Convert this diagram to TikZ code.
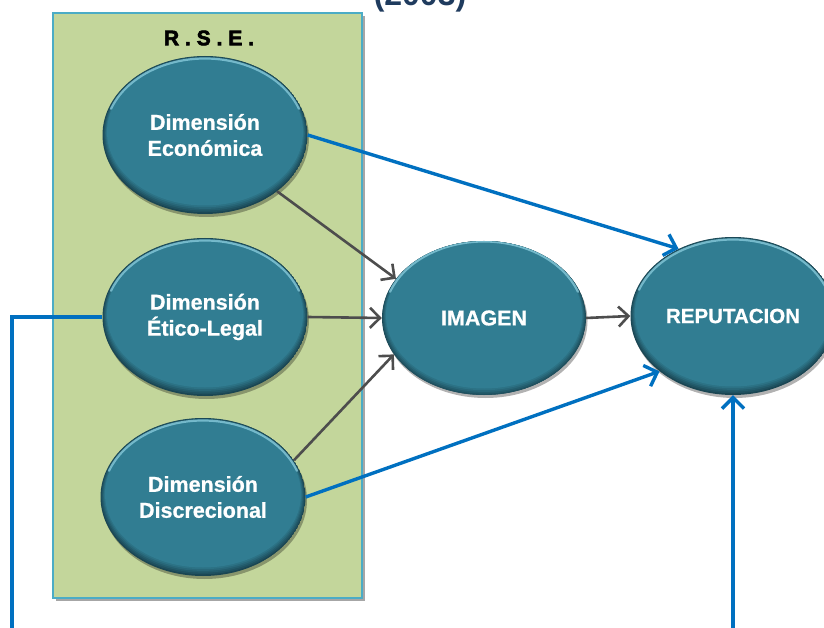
\documentclass[tikz,border=0pt]{standalone}
\usepackage{fontspec}
\setmainfont{Liberation Sans}
\newfontfamily\rsefont{Liberation Sans}[LetterSpace=28,FakeBold=3]
\newfontfamily\bubblefont{Liberation Sans}[FakeBold=0.8]
\usetikzlibrary{shapes.geometric, arrows.meta, shadows}

\definecolor{panelfill}{HTML}{C3D69B}
\definecolor{panelline}{HTML}{4BACC6}
\definecolor{bubblebody}{HTML}{317D92}
\definecolor{bubblerim}{HTML}{1A4653}
\definecolor{bubblelight}{HTML}{8CCFE0}
\definecolor{linkblue}{HTML}{0070C0}
\definecolor{linkgray}{HTML}{4D4D4D}
\definecolor{yearnavy}{HTML}{1F3B5E}

\tikzset{
  panelbox/.style={rectangle, fill=panelfill, draw=panelline, line width=2pt,
    drop shadow={shadow xshift=2.5pt, shadow yshift=-3pt, opacity=0.35, fill=black}},
  bubble/.style={ellipse, minimum width=205pt, minimum height=158pt, inner sep=0pt,
    text=white, align=center, font=\bubblefont\bfseries\fontsize{21.5}{26}\selectfont,
    drop shadow={shadow xshift=1.5pt, shadow yshift=-3pt, opacity=0.3, fill=black},
    path picture={
      % bevelled rim: dark at the bottom, easing into the body colour
      \foreach \k/\p in {0/0,1/20,2/40,3/60,4/80,5/100}{
        \fill[bubblebody!\p!bubblerim]
          ([yshift=\k*0.6pt]path picture bounding box.center)
          ellipse [x radius=102.5pt-\k*0.9pt, y radius=79pt-\k*1.1pt];
      }
      % light rim along the top
      \draw[bubblelight, line width=2.2pt, opacity=0.75, line cap=round]
        ([shift={(160:100pt and 76.5pt)}]path picture bounding box.center)
        arc [start angle=160, end angle=20, x radius=100pt, y radius=76.5pt];
    }},
  % open chevron heads
  bluelink/.style={draw=linkblue, line width=3.4pt, ->,
    >={Straight Barb[length=11pt, width=22pt]}},
  bluewire/.style={draw=linkblue, line width=3.4pt},
  graylink/.style={draw=linkgray, line width=2.6pt, ->,
    >={Straight Barb[length=10pt, width=20pt]}},
}

\begin{document}
\begin{tikzpicture}[x=1pt, y=1pt]
  \useasboundingbox (0,0) rectangle (824,627);
  \clip (0,0) rectangle (824,627);

  % title year, partly above the top edge
  \node[anchor=base, text=yearnavy, font=\fontsize{32}{32}\selectfont\bfseries, inner sep=0pt]
    (year) at (420,621) {(2003)};

  % R.S.E. panel
  \node[panelbox, minimum width=309pt, minimum height=585pt, inner sep=0pt]
    (panel) at (207.5,321.5) {};
  \node[font=\rsefont\bfseries\fontsize{21}{21}\selectfont, inner sep=0pt]
    (rse) at (209,589) {R.S.E.};

  % dimensions
  \node[bubble] (econ) at (205,492) {Dimensión\\Económica};
  \node[bubble] (etico) at (205,310) {Dimensión\\Ético-Legal};
  \node[bubble] (disc) at (203,130) {Dimensión\\Discrecional};

  % outcomes
  \node[bubble, minimum width=204pt, minimum height=154pt] (imagen) at (484,309) {IMAGEN};
  \node[bubble, font=\bubblefont\bfseries\fontsize{20.5}{24}\selectfont] (rep) at (733,311) {REPUTACION};

  % open ends leaving the bottom edge
  \coordinate (lfoot) at (12,-10);
  \coordinate (rfoot) at (733,-10);

  % connectors
  \draw[graylink] (econ.-38) -- (imagen.156);
  \draw[graylink] (etico.east) -- (imagen.west);
  \draw[graylink] (disc.22) -- (imagen.202);
  \draw[graylink] (imagen.east) -- (rep.west);
  \draw[bluelink] (econ.east) -- (rep.129);
  \draw[bluelink] (disc.east) -- (rep.217);
  \draw[bluewire] (etico.west) -| (lfoot);
  \draw[bluelink] (rfoot) -- (rep.south);
\end{tikzpicture}
\end{document}
